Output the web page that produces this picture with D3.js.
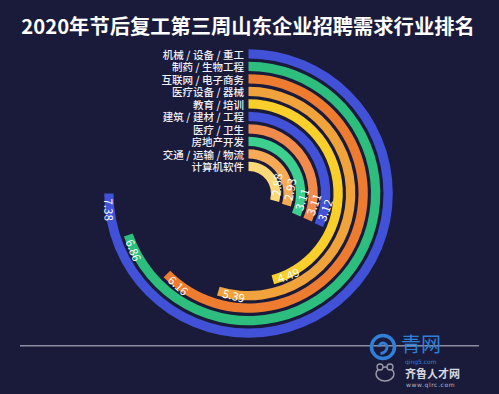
<!DOCTYPE html>
<html><head><meta charset="utf-8">
<script src="https://cdn.jsdelivr.net/npm/d3@7"></script>
<style>
html,body{margin:0;padding:0;background:#1a1b3a;}
svg{display:block;}
text{font-family:"Noto Sans CJK SC","Noto Sans",sans-serif;}
</style></head>
<body>
<script>
const categories = ["机械/设备/重工","制药/生物工程","互联网/电子商务","医疗设备/器械","教育/培训","建筑/建材/工程","医疗/卫生","房地产开发","交通/运输/物流","计算机软件"];
const values = [7.38,6.86,6.16,5.39,4.49,3.12,3.11,3.11,2.93,2.88];
const colors = ["#4252d8","#2dbe7e","#ed7c30","#f0a33b","#f9cf2b","#4252d8","#f08b4b","#3ccf8e","#f7aa55","#fcd877"];
const angleMax = 9.84;
const title = "2020年节后复工第三周山东企业招聘需求行业排名";

const W = 499, H = 394;
const cx = 248.5, cy = 193.5;
const data = categories.map((c,i)=>({c, v: values[i], color: colors[i]}));

const svg = d3.select("body").append("svg").attr("width", W).attr("height", H);
svg.append("rect").attr("width", W).attr("height", H).attr("fill", "#1a1b3a");

svg.append("text").attr("x", 248).attr("y", 33.5).attr("text-anchor","middle")
  .attr("fill","#ffffff").attr("font-size","20.3px").attr("font-weight","bold").text(title);

const angle = d3.scaleLinear().domain([0, angleMax]).range([0, 2*Math.PI]);
const radius = d3.scaleBand().domain(categories).range([144.3, 22.5]).paddingInner(0.256);
const bw = radius.bandwidth();

const g = svg.append("g").attr("transform", `translate(${cx},${cy})`);
const arc = d3.arc()
  .innerRadius(d=>radius(d.c))
  .outerRadius(d=>radius(d.c)+bw)
  .startAngle(0)
  .endAngle(d=>angle(d.v));

g.selectAll("path.bar").data(data).join("path").attr("class","bar")
  .attr("d", arc).attr("fill", d=>d.color);

// category labels
const lab = svg.append("g");
data.forEach(d=>{
  const rMid = radius(d.c) + bw/2;
  const t = lab.append("text").attr("x", cx - 4.5).attr("y", cy - rMid)
    .attr("text-anchor","end").attr("dominant-baseline","central")
    .attr("fill","#f0f0f6").attr("font-size","10.5px").attr("font-weight","500");
  const parts = d.c.split("/");
  parts.forEach((p,i)=>{
    if(i>0){
      t.append("tspan").attr("dx", 2.5).text("/");
      t.append("tspan").attr("dx", 2.5).text(p);
    } else {
      t.append("tspan").text(p);
    }
  });
});

// value labels
data.forEach(d=>{
  const rMid = radius(d.c) + bw/2;
  const th = angle(d.v) - 5/rMid;
  const px = rMid*Math.sin(th), py = -rMid*Math.cos(th);
  const a = th*180/Math.PI + 180;
  g.append("text").attr("transform", `translate(${px},${py}) rotate(${a})`)
    .attr("text-anchor","start").attr("dominant-baseline","central")
    .attr("fill","#ffffff").attr("font-size","11.5px").text(d.v.toFixed(2));
});

// bottom rule
svg.append("line").attr("x1",20).attr("x2",479).attr("y1",345.7).attr("y2",345.7)
  .attr("stroke","#8d8da0").attr("stroke-width",1.5);

// logo
const logo = svg.append("g");
logo.append("circle").attr("cx",383).attr("cy",347).attr("r",11.5).attr("fill","none")
  .attr("stroke","#2f80d8").attr("stroke-width",3.5);
logo.append("path").attr("d","M383,347 m-4,0 a4,4 0 1,1 8,0 a6.5,6.5 0 0,1 -6.5,6.5")
  .attr("fill","none").attr("stroke","#2f80d8").attr("stroke-width",2.8);
logo.append("text").attr("x",401).attr("y",352).attr("fill","#2f80d8")
  .attr("font-size","20px").text("青网");
logo.append("text").attr("x",405).attr("y",363.5).attr("fill","#2f80d8")
  .style("font-family","'DejaVu Sans',sans-serif").attr("font-size","6px").text("qing5.com");
logo.append("ellipse").attr("cx",385).attr("cy",374).attr("rx",9).attr("ry",7)
  .attr("fill","none").attr("stroke","#9a9aaa").attr("stroke-width",1.5);
logo.append("circle").attr("cx",380).attr("cy",367).attr("r",3).attr("fill","#1a1b3a").attr("stroke","#9a9aaa").attr("stroke-width",1.3);
logo.append("circle").attr("cx",390).attr("cy",367).attr("r",3).attr("fill","#1a1b3a").attr("stroke","#9a9aaa").attr("stroke-width",1.3);
logo.append("text").attr("x",405).attr("y",377.5).attr("fill","#d8d8e0")
  .attr("font-size","11px").attr("font-weight","bold").text("齐鲁人才网");
logo.append("text").attr("x",406).attr("y",386.5).attr("fill","#b8b8c4")
  .style("font-family","'DejaVu Sans',sans-serif")
  .attr("font-size","6px").attr("letter-spacing","0.6px").text("www.qlrc.com");
</script>
</body></html>
